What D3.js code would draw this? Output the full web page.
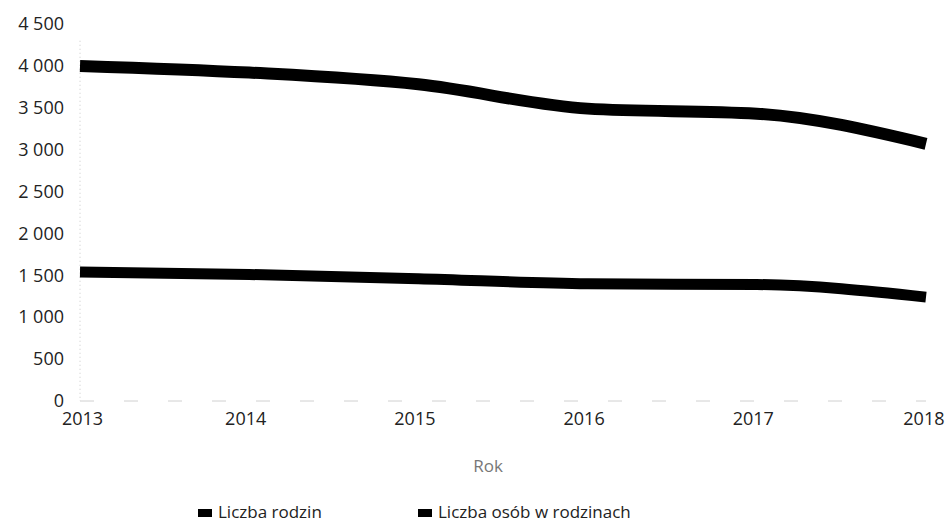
<!DOCTYPE html>
<html>
<head>
<meta charset="utf-8">
<script src="https://cdn.jsdelivr.net/npm/d3@7"></script>
<style>
body { margin: 0; background: #fff; }
text { font-family: "Open Sans", "Noto Sans", sans-serif; }
</style>
</head>
<body>
<div id="chart"></div>
<script>
var years = [2013, 2014, 2015, 2016, 2017, 2018];
var rodziny = [1540, 1510, 1460, 1400, 1390, 1240];
var osoby = [4000, 3920, 3780, 3490, 3430, 3070];
var yTicks = [0, 500, 1000, 1500, 2000, 2500, 3000, 3500, 4000, 4500];
var legendLabels = ["Liczba rodzin", "Liczba osób w rodzinach"];

var width = 948, height = 528;
var margin = { top: 24, right: 22, bottom: 127, left: 80 };

var svg = d3.select("#chart").append("svg")
  .attr("width", width)
  .attr("height", height);

var x = d3.scaleLinear()
  .domain([2013, 2018])
  .range([margin.left, width - margin.right]);

var y = d3.scaleLinear()
  .domain([0, 4500])
  .range([height - margin.bottom, margin.top]);

var fmt = function(d) { return d3.format(",")(d).replace(",", " "); };

// faint axis lines, like in the scan
svg.append("line")
  .attr("x1", x(2013)).attr("x2", x(2013))
  .attr("y1", y(4300)).attr("y2", y(0))
  .attr("stroke", "#c8c8c8")
  .attr("stroke-width", 1)
  .attr("stroke-dasharray", "1,3");

svg.append("line")
  .attr("x1", x(2013)).attr("x2", x(2018))
  .attr("y1", y(0)).attr("y2", y(0))
  .attr("stroke", "#d0d0d0")
  .attr("stroke-width", 1)
  .attr("stroke-dasharray", "14,30");

var yAxis = svg.append("g")
  .attr("transform", "translate(" + (margin.left - 16) + ",0)")
  .call(d3.axisLeft(y).tickValues(yTicks).tickFormat(fmt).tickSize(0).tickPadding(0));
yAxis.select(".domain").remove();
yAxis.selectAll("text")
  .attr("fill", "#222")
  .style("font-size", "18px");

var xAxis = svg.append("g")
  .attr("transform", "translate(0," + (y(0) + 7) + ")")
  .call(d3.axisBottom(x).tickValues(years).tickFormat(d3.format("d")).tickSize(0).tickPadding(4));
xAxis.select(".domain").remove();
xAxis.selectAll("text")
  .attr("fill", "#222")
  .style("font-size", "18px")
  .attr("text-anchor", function(d) { return d === 2018 ? "end" : "middle"; })
  .attr("dx", function(d) { return d === 2018 ? 18 : d === 2013 ? 2 : -4; });

svg.append("text")
  .attr("x", 488)
  .attr("y", 472)
  .attr("text-anchor", "middle")
  .attr("fill", "#777")
  .style("font-size", "17px")
  .text("Rok");

var line = d3.line()
  .x(function(d, i) { return x(years[i]); })
  .y(function(d) { return y(d); })
  .curve(d3.curveMonotoneX);

svg.append("path")
  .datum(osoby)
  .attr("d", line)
  .attr("fill", "none")
  .attr("stroke", "#000")
  .attr("stroke-width", 12);

svg.append("path")
  .datum(rodziny)
  .attr("d", line)
  .attr("fill", "none")
  .attr("stroke", "#000")
  .attr("stroke-width", 11);

var legendX = [198, 418];
var legend = svg.selectAll(".legend")
  .data(legendLabels)
  .enter().append("g")
  .attr("class", "legend")
  .attr("transform", function(d, i) { return "translate(" + legendX[i] + ",518)"; });

legend.append("rect")
  .attr("x", 0).attr("y", -9)
  .attr("width", 14).attr("height", 8)
  .attr("fill", "#000");

legend.append("text")
  .attr("x", 20)
  .attr("y", 0)
  .attr("fill", "#222")
  .style("font-size", "17px")
  .text(function(d) { return d; });
</script>
</body>
</html>
